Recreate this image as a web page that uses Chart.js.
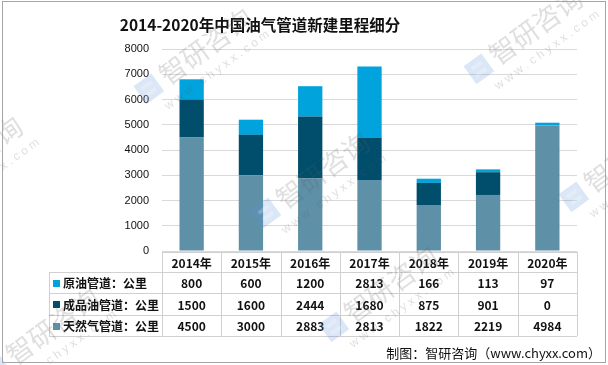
<!DOCTYPE html>
<html>
<head>
<meta charset="utf-8">
<script src="https://cdn.jsdelivr.net/npm/chart.js@4/dist/chart.umd.min.js"></script>
<style>
html,body{margin:0;padding:0;background:#fff;}
canvas{display:block;}
</style>
</head>
<body>
<canvas id="c" width="608" height="365"></canvas>
<script>
const TITLE = "2014-2020年中国油气管道新建里程细分";
const FOOTER = "制图：智研咨询（www.chyxx.com）";
const WATERMARK = "智研咨询";
const WATERMARK_URL = "w w w . c h y x x . c o m";
const categories = ["2014年","2015年","2016年","2017年","2018年","2019年","2020年"];
const crudeOil = [800,600,1200,2813,166,113,97];
const productOil = [1500,1600,2444,1680,875,901,0];
const naturalGas = [4500,3000,2883,2813,1822,2219,4984];
const seriesNames = ["原油管道：公里","成品油管道：公里","天然气管道：公里"];
const yTicks = [0,1000,2000,3000,4000,5000,6000,7000,8000];

const COLORS = {crude:"#00A3DB", product:"#004E6B", gas:"#5E90A8"};
const CJK = "'Noto Sans CJK SC','Microsoft YaHei',sans-serif";

const tableRows = [
  {name:seriesNames[0], color:COLORS.crude, data:crudeOil},
  {name:seriesNames[1], color:COLORS.product, data:productOil},
  {name:seriesNames[2], color:COLORS.gas, data:naturalGas}
];

const wmSpots = [[215,42],[545,22],[-15,150],[332,166],[640,150],[62,322],[400,280]];

function drawWatermark(ctx, cx, cy){
  ctx.save();
  ctx.translate(cx, cy);
  ctx.rotate(-36 * Math.PI / 180);
  ctx.globalAlpha = 0.22;
  ctx.fillStyle = "#5a90d8";
  ctx.fillRect(-92, -12, 22, 22);
  ctx.fillStyle = "#ffffff";
  ctx.fillRect(-87, -7, 12, 4);
  ctx.fillRect(-87, 1, 12, 4);
  ctx.globalAlpha = 0.2;
  ctx.fillStyle = "#606060";
  ctx.font = "27px " + CJK;
  ctx.textAlign = "left";
  ctx.textBaseline = "middle";
  ctx.fillText(WATERMARK, -64, -2);
  ctx.font = "12px 'Liberation Sans', Arial, sans-serif";
  ctx.fillText(WATERMARK_URL, -78, 24);
  ctx.restore();
}

const extras = {
  id:"extras",
  afterDraw(chart){
    const ctx = chart.ctx;
    const x = chart.scales.x;
    const ca = chart.chartArea;
    ctx.save();
    ctx.fillStyle = "#111";
    ctx.font = "bold 15.5px " + CJK;
    ctx.textAlign = "center";
    ctx.textBaseline = "middle";
    ctx.fillText(TITLE, 260, 25);
    const n = categories.length;
    const step = (ca.right - ca.left) / n;
    const rowsY = [252, 272, 293, 315, 336];
    const tLeft = 49;
    ctx.strokeStyle = "#d0d0d0";
    ctx.lineWidth = 1;
    ctx.beginPath();
    ctx.moveTo(ca.left, rowsY[0] + 0.5); ctx.lineTo(ca.right, rowsY[0] + 0.5);
    for (let r = 1; r < rowsY.length; r++) {
      ctx.moveTo(tLeft, rowsY[r] + 0.5); ctx.lineTo(ca.right, rowsY[r] + 0.5);
    }
    ctx.moveTo(tLeft + 0.5, rowsY[1]); ctx.lineTo(tLeft + 0.5, rowsY[4]);
    for (let i = 0; i <= n; i++) {
      const vx = Math.round(ca.left + i * step) + 0.5;
      ctx.moveTo(vx, rowsY[0]); ctx.lineTo(vx, rowsY[4]);
    }
    ctx.stroke();
    ctx.fillStyle = "#111";
    ctx.font = "bold 12px " + CJK;
    ctx.textAlign = "center";
    categories.forEach((c, i) => {
      ctx.fillText(c, x.getPixelForValue(i), (rowsY[0] + rowsY[1]) / 2 + 1);
    });
    tableRows.forEach((row, r) => {
      const cy = (rowsY[r + 1] + rowsY[r + 2]) / 2 + 1;
      ctx.fillStyle = row.color;
      ctx.fillRect(53, Math.round(cy - 4), 7, 7);
      ctx.fillStyle = "#111";
      ctx.textAlign = "left";
      ctx.fillText(row.name, 63, cy);
      ctx.textAlign = "center";
      row.data.forEach((v, i) => {
        ctx.fillText(String(v), x.getPixelForValue(i), cy);
      });
    });
    ctx.font = "13px " + CJK;
    ctx.textAlign = "right";
    ctx.fillStyle = "#111";
    ctx.fillText(FOOTER, 601, 353);
    wmSpots.forEach(p => drawWatermark(ctx, p[0], p[1]));
    ctx.strokeStyle = "#a6a6a6";
    ctx.strokeRect(2.5, 1.5, 603, 361);
    ctx.restore();
  }
};

new Chart(document.getElementById("c"), {
  type: "bar",
  data: {
    labels: categories,
    datasets: [
      {label: seriesNames[2], data: naturalGas, backgroundColor: COLORS.gas},
      {label: seriesNames[1], data: productOil, backgroundColor: COLORS.product},
      {label: seriesNames[0], data: crudeOil, backgroundColor: COLORS.crude}
    ]
  },
  options: {
    responsive: false,
    animation: false,
    events: [],
    layout: {padding: {left: 100, right: 31, top: 49, bottom: 114}},
    datasets: {bar: {categoryPercentage: 1, barPercentage: 0.41}},
    plugins: {legend: {display: false}, title: {display: false}, tooltip: {enabled: false}},
    scales: {
      x: {stacked: true, display: false},
      y: {
        stacked: true, min: 0, max: 8000,
        afterFit(s){ s.width = 62; },
        afterBuildTicks(s){ s.ticks = yTicks.map(v => ({value: v})); },
        border: {display: false},
        grid: {color: "#d9d9d9", drawTicks: false},
        ticks: {padding: 13, color: "#111", callback: v => String(v),
                font: {family: "'Liberation Sans', Arial, sans-serif", size: 11}}
      }
    }
  },
  plugins: [extras]
});
</script>
</body>
</html>
